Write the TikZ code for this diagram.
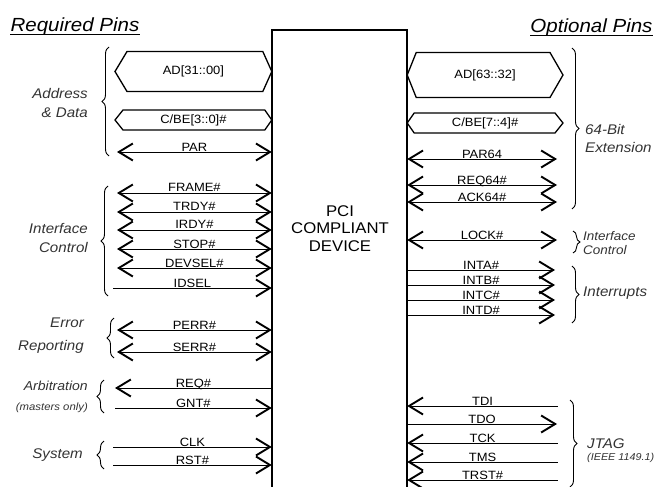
\documentclass[tikz,border=0pt]{standalone}
\usepackage{fontspec}
\setmainfont[FakeStretch=1.08]{Liberation Sans}
\usetikzlibrary{arrows.meta,decorations.pathreplacing,calc}
\begin{document}
\begin{tikzpicture}[x=1pt,y=-1pt,
  >={Straight Barb[length=14pt,width=17pt,line width=1.9pt]},
  sig/.style={line width=0.9pt},
  both/.style={<->}, rt/.style={->}, lt/.style={<-},
  lab/.style={midway, anchor=base, inner sep=0pt, yshift=1pt, font=\fontsize{12}{14}\selectfont},
  buslab/.style={inner sep=0pt, font=\fontsize{12}{14}\selectfont},
  bus/.style={line width=1.3pt, line join=miter},
  brc/.style={decorate, decoration={brace, amplitude=7pt}, line width=0.9pt},
  grp/.style={inner sep=0pt, text=black!80, font=\fontsize{14}{19}\selectfont\itshape},
  head/.style={inner sep=0pt, anchor=base, font=\fontsize{19}{22}\selectfont\itshape}
]
\useasboundingbox (0,0) rectangle (657,487);

% device
\node[minimum width=135pt, minimum height=457pt, inner sep=0pt] (dev) at (339.5,258.5) {};
\draw[line width=2.2pt] (dev.south west) -- (dev.north west) -- (dev.north east) -- (dev.south east);
\node[align=center, inner sep=0pt, font=\fontsize{15.5}{17.5}\selectfont] (devtxt) at (340,228.5) {PCI\\COMPLIANT\\DEVICE};

% headings
\node[head] (req) at (75,32) {Required Pins};
\draw[line width=0.8pt] ($(req.base west)+(0,2.5)$) -- ($(req.base east)+(0,2.5)$);
\node[head] (opt) at (591.5,33) {Optional Pins};
\draw[line width=0.8pt] ($(opt.base west)+(0,2.5)$) -- ($(opt.base east)+(0,2.5)$);

% left buses
\coordinate (adL-a) at (115,71.5); \coordinate (adL-b) at (dev.west |- 0,71.5);
\draw[bus] (adL-a) -- ($(adL-a)+(12,-20)$) -- ($(adL-b)+(-9,-20)$) -- (adL-b) -- ($(adL-b)+(-9,20)$) -- ($(adL-a)+(12,20)$) -- cycle;
\node[buslab] (adL) at ($(adL-a)!0.5!(adL-b)$) {AD[31::00]};
\coordinate (cbL-a) at (115,120); \coordinate (cbL-b) at (dev.west |- 0,120);
\draw[bus] (cbL-a) -- ($(cbL-a)+(8,-10)$) -- ($(cbL-b)+(-7,-10)$) -- (cbL-b) -- ($(cbL-b)+(-7,10)$) -- ($(cbL-a)+(8,10)$) -- cycle;
\node[buslab] (cbL) at ($(cbL-a)!0.5!(cbL-b)$) {C/BE[3::0]\#};

% right buses
\coordinate (adR-a) at (dev.east |- 0,75); \coordinate (adR-b) at (563,75);
\draw[bus] (adR-a) -- ($(adR-a)+(9,-22.5)$) -- ($(adR-b)+(-13,-22.5)$) -- (adR-b) -- ($(adR-b)+(-13,22.5)$) -- ($(adR-a)+(9,22.5)$) -- cycle;
\node[buslab] (adR) at ($(adR-a)!0.5!(adR-b)$) {AD[63::32]};
\coordinate (cbR-a) at (dev.east |- 0,123); \coordinate (cbR-b) at (563,123);
\draw[bus] (cbR-a) -- ($(cbR-a)+(7,-10)$) -- ($(cbR-b)+(-8,-10)$) -- (cbR-b) -- ($(cbR-b)+(-8,10)$) -- ($(cbR-a)+(7,10)$) -- cycle;
\node[buslab] (cbR) at ($(cbR-a)!0.5!(cbR-b)$) {C/BE[7::4]\#};

% left signals
\foreach \n/\y/\t/\a/\xs in {
  par/152/PAR/both/117, frame/193/FRAME\#/both/117, trdy/212/TRDY\#/both/117,
  irdy/230/IRDY\#/both/117, stop/249/STOP\#/both/117, devsel/268/DEVSEL\#/both/117,
  idsel/288/IDSEL/rt/113, perr/330/PERR\#/both/117, serr/352/SERR\#/both/117,
  reqn/388/REQ\#/lt/115, gnt/408/GNT\#/rt/115, clk/447/CLK/rt/113, rst/465/RST\#/rt/113}
{
  \coordinate (\n-a) at (\xs,\y);
  \coordinate (\n-b) at (dev.west |- 0,\y);
  \draw[sig,\a] (\n-a) -- node[lab] (\n-l) {\t} (\n-b);
}

% right signals
\foreach \n/\y/\t/\a/\xe in {
  par64/159/PAR64/both/557, req64/185/REQ64\#/both/557, ack64/202/ACK64\#/both/557,
  lock/240/LOCK\#/both/557, inta/270/INTA\#/rt/555, intb/285/INTB\#/rt/555,
  intc/300/INTC\#/rt/555, intd/315/INTD\#/rt/555, tdi/406/TDI/lt/558,
  tdo/424/TDO/rt/557, tck/443/TCK/lt/558, tms/462/TMS/lt/558, trst/480/TRST\#/lt/558}
{
  \coordinate (\n-a) at (dev.east |- 0,\y);
  \coordinate (\n-b) at (\xe,\y);
  \draw[sig,\a] (\n-a) -- node[lab] (\n-l) {\t} (\n-b);
}

% left braces and labels
\draw[brc] (109,156) -- (109,47);
\node[grp, anchor=east, align=right] (gad) at (88,103) {Address\\\& Data};
\draw[brc] (108,296) -- (108,186);
\node[grp, anchor=east, align=right] (gic) at (88,238) {Interface\\Control};
\draw[brc] (114,358) -- (114,318);
\node[grp, anchor=east, align=right, font=\fontsize{14}{23}\selectfont\itshape] (ger) at (84,336) {Error\\Reporting};
\draw[brc] (104,413) -- (104,380);
\node[grp, anchor=east, align=right, font=\fontsize{13}{20}\selectfont\itshape] (garb) at (88,397) {Arbitration\\{\fontsize{10.5}{12}\selectfont(masters only)}};
\draw[brc] (104,469) -- (104,441);
\node[grp, anchor=east] (gsys) at (83,455) {System};

% right braces and labels
\draw[brc] (572,48) -- (572,209);
\node[grp, anchor=west, align=left, font=\fontsize{14}{18}\selectfont\itshape] (g64) at (585,138) {64-Bit\\Extension};
\draw[brc] (573,231) -- (573,253);
\node[grp, anchor=west, align=left, font=\fontsize{12.5}{13.5}\selectfont\itshape] (gic2) at (583,243) {Interface\\Control};
\draw[brc] (572,266) -- (572,323);
\node[grp, anchor=west] (gint) at (583,293) {Interrupts};
\draw[brc] (570,400) -- (570,487);
\node[grp, anchor=west, font=\fontsize{14}{16}\selectfont\itshape] (gjt) at (587,444) {JTAG};
\node[grp, anchor=west, font=\fontsize{10}{12}\selectfont\itshape] (gieee) at (587,458) {(IEEE 1149.1)};
\end{tikzpicture}
\end{document}
